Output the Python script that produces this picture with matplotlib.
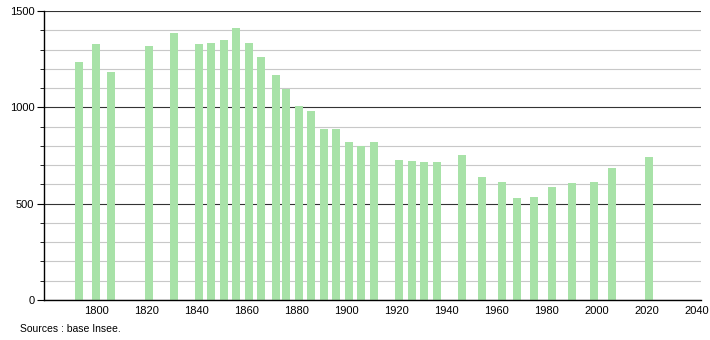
import matplotlib
matplotlib.use('Agg')
import matplotlib.pyplot as plt
from matplotlib.ticker import MultipleLocator

plt.rcParams['font.family'] = ['Liberation Sans', 'DejaVu Sans']

# Population par recensement
annees = [1793, 1800, 1806, 1821, 1831, 1841, 1846, 1851, 1856, 1861, 1866,
          1872, 1876, 1881, 1886, 1891, 1896, 1901, 1906, 1911, 1921, 1926,
          1931, 1936, 1946, 1954, 1962, 1968, 1975, 1982, 1990, 1999, 2006,
          2021]
population = [1236, 1329, 1181, 1319, 1386, 1328, 1335, 1350, 1412, 1335, 1262,
              1169, 1095, 1009, 983, 885, 890, 818, 797, 818, 729, 720,
              715, 715, 751, 638, 612, 529, 534, 584, 607, 612, 684,
              740]
xticks = list(range(1800, 2041, 20))

fig = plt.figure(figsize=(7.1, 3.4), dpi=100)
ax = fig.add_axes([44 / 710, 40 / 340, 657 / 710, 289 / 340])

ax.bar(annees, population, width=3.2, color='#a8e2a8', zorder=2)

ax.set_xlim(1779.2, 2041.6)
ax.set_ylim(0, 1500)
ax.set_xticks(xticks)
ax.yaxis.set_major_locator(MultipleLocator(500))
ax.yaxis.set_minor_locator(MultipleLocator(100))
ax.grid(axis='y', which='minor', color='#c8c8c8', linewidth=0.8, zorder=0)
ax.grid(axis='y', which='major', color='#333333', linewidth=0.8, zorder=1)

for s in ['top', 'right']:
    ax.spines[s].set_visible(False)
ax.spines['left'].set_linewidth(1)
ax.spines['bottom'].set_linewidth(1)
ax.tick_params(axis='x', length=0, labelsize=8, pad=4)
ax.tick_params(axis='y', which='major', length=5, labelsize=8, pad=2)
ax.tick_params(axis='y', which='minor', length=3)

fig.text(20 / 710, 1 - 329 / 340, 'Sources : base Insee.', fontsize=7.5,
         va='center', ha='left')

fig.savefig('out.png', dpi=100)
